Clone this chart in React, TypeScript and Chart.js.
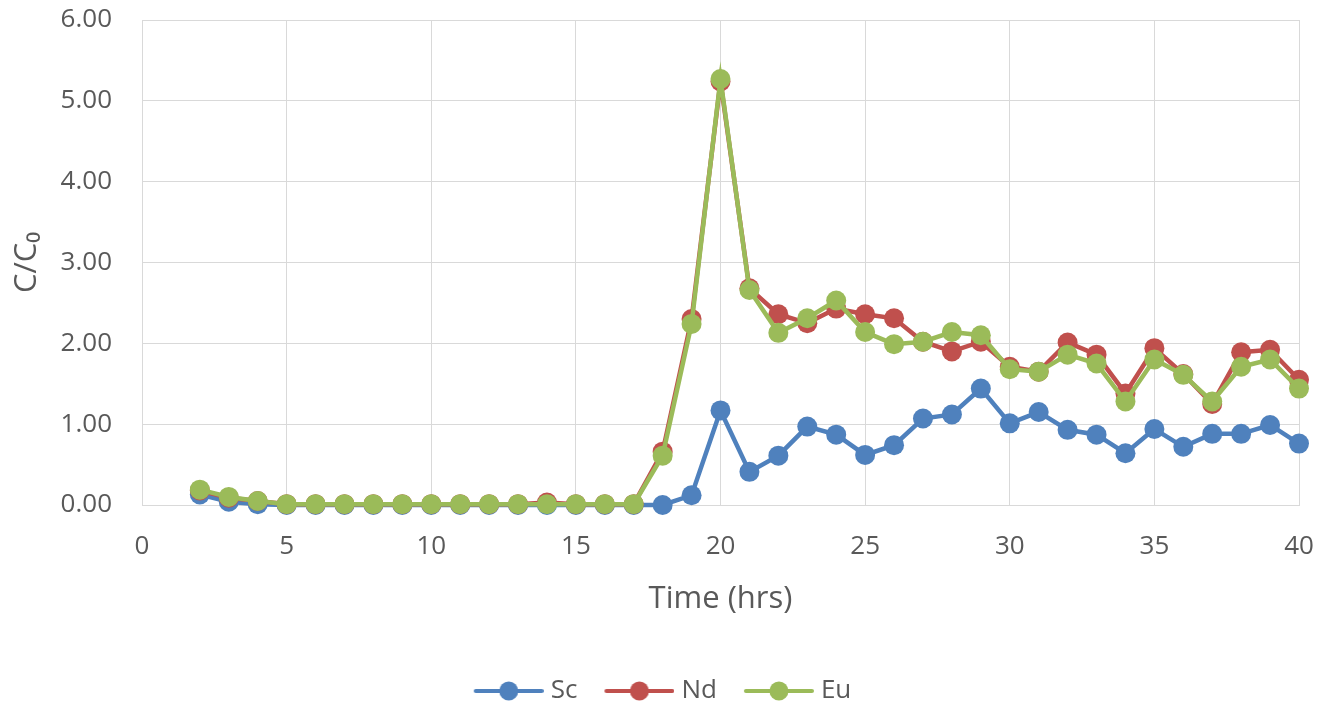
import React, { useEffect, useRef } from "react";
import { Chart, registerables } from "chart.js";

Chart.register(...registerables);

const hours = [2, 3, 4, 5, 6, 7, 8, 9, 10, 11, 12, 13, 14, 15, 16, 17, 18, 19, 20, 21, 22, 23, 24, 25, 26, 27, 28, 29, 30, 31, 32, 33, 34, 35, 36, 37, 38, 39, 40];

const scValues = [0.13, 0.04, 0.01, 0.0, 0.0, 0.0, 0.0, 0.0, 0.0, 0.0, 0.0, 0.0, 0.0, 0.0, 0.0, 0.0, 0.0, 0.12, 1.17, 0.41, 0.61, 0.97, 0.87, 0.62, 0.74, 1.07, 1.12, 1.44, 1.01, 1.15, 0.93, 0.87, 0.64, 0.94, 0.72, 0.88, 0.88, 0.99, 0.76];

const ndValues = [0.18, 0.09, 0.05, 0.01, 0.01, 0.01, 0.01, 0.01, 0.01, 0.01, 0.01, 0.01, 0.03, 0.01, 0.01, 0.01, 0.66, 2.3, 5.24, 2.68, 2.36, 2.25, 2.43, 2.36, 2.31, 2.02, 1.9, 2.02, 1.71, 1.65, 2.01, 1.86, 1.38, 1.94, 1.62, 1.25, 1.89, 1.92, 1.55];

const euValues = [0.19, 0.1, 0.05, 0.01, 0.01, 0.01, 0.01, 0.01, 0.01, 0.01, 0.01, 0.01, 0.01, 0.01, 0.01, 0.01, 0.61, 2.24, 5.27, 2.66, 2.13, 2.31, 2.53, 2.14, 1.99, 2.02, 2.14, 2.1, 1.68, 1.65, 1.86, 1.75, 1.28, 1.8, 1.61, 1.28, 1.71, 1.8, 1.44];

const seriesNames = ["Sc", "Nd", "Eu"];
const seriesColors = ["#4F81BD", "#C0504D", "#9BBB59"];

const xTitle = "Time (hrs)";
const yTitle = "C/C\u2080";

const FONT = "'Open Sans', 'DejaVu Sans', sans-serif";
const TEXT_COLOR = "#595959";
const GRID_COLOR = "#D9D9D9";

function makeLegendIcon(color: string): HTMLCanvasElement {
  const c = document.createElement("canvas");
  c.width = 102;
  c.height = 24;
  const ctx = c.getContext("2d")!;
  ctx.strokeStyle = color;
  ctx.lineWidth = 4;
  ctx.lineCap = "round";
  ctx.beginPath();
  ctx.moveTo(34, 12);
  ctx.lineTo(100, 12);
  ctx.stroke();
  ctx.fillStyle = color;
  ctx.beginPath();
  ctx.arc(67, 12, 9.5, 0, Math.PI * 2);
  ctx.fill();
  return c;
}

export default function App() {
  const canvasRef = useRef<HTMLCanvasElement | null>(null);

  useEffect(() => {
    if (!canvasRef.current) return;
    const allValues = [scValues, ndValues, euValues];
    const icons = seriesColors.map((c) => makeLegendIcon(c));
    const datasets = seriesNames.map((name, i) => ({
      label: name,
      data: hours.map((h, j) => ({ x: h, y: allValues[i][j] })),
      borderColor: seriesColors[i],
      backgroundColor: seriesColors[i],
      pointBackgroundColor: seriesColors[i],
      pointBorderColor: seriesColors[i],
      borderWidth: 4.5,
      pointRadius: 10,
      pointBorderWidth: 0,
      pointHoverRadius: 10,
      tension: 0,
      clip: false,
      order: 3 - i,
    }));

    const chart = new Chart(canvasRef.current, {
      type: "line",
      data: { datasets },
      options: {
        animation: false,
        responsive: false,
        maintainAspectRatio: false,
        layout: { padding: { top: 20, right: 21, bottom: -10, left: 0 } },
        plugins: {
          tooltip: { enabled: false },
          legend: {
            position: "bottom",
            labels: {
              usePointStyle: true,
              pointStyleWidth: 90,
              padding: 1,
              color: TEXT_COLOR,
              font: { family: FONT, size: 26 },
              generateLabels: (ch: any) =>
                ch.data.datasets.map((ds: any, i: number) => ({
                  text: ds.label,
                  pointStyle: icons[i],
                  fillStyle: ds.borderColor,
                  strokeStyle: ds.borderColor,
                  lineWidth: 0,
                  hidden: false,
                  datasetIndex: i,
                  fontColor: TEXT_COLOR,
                })),
            },
          },
        },
        scales: {
          x: {
            type: "linear",
            min: 0,
            max: 40,
            afterFit: (s: any) => {
              s.height = 172;
            },
            ticks: {
              stepSize: 5,
              padding: 0,
              color: TEXT_COLOR,
              font: { family: FONT, size: 26 },
              callback: (v: any) => String(v),
            },
            grid: {
              color: GRID_COLOR,
              lineWidth: 1,
              drawTicks: true,
              tickLength: 26,
              tickColor: "rgba(0,0,0,0)",
            },
            border: { color: GRID_COLOR, width: 1 },
            title: {
              display: true,
              text: xTitle,
              color: TEXT_COLOR,
              font: { family: FONT, size: 31 },
              padding: { top: 0, bottom: 59 },
            },
          },
          y: {
            min: 0,
            max: 6,
            afterFit: (s: any) => {
              s.width = 142;
            },
            ticks: {
              stepSize: 1,
              padding: 0,
              color: TEXT_COLOR,
              font: { family: FONT, size: 26 },
              callback: (v: any) => Number(v).toFixed(2),
            },
            grid: {
              color: GRID_COLOR,
              lineWidth: 1,
              drawTicks: true,
              tickLength: 30,
              tickColor: "rgba(0,0,0,0)",
            },
            border: { color: GRID_COLOR, width: 1 },
            title: {
              display: true,
              text: yTitle,
              color: TEXT_COLOR,
              font: { family: FONT, size: 31 },
              padding: { top: 9, bottom: 0 },
            },
          },
        },
      },
    } as any);

    return () => {
      chart.destroy();
    };
  }, []);

  return (
    <div style={{ position: "absolute", left: 0, top: 0, width: 1320, height: 704, background: "#ffffff" }}>
      <canvas ref={canvasRef} width={1320} height={704} style={{ display: "block" }} />
    </div>
  );
}
